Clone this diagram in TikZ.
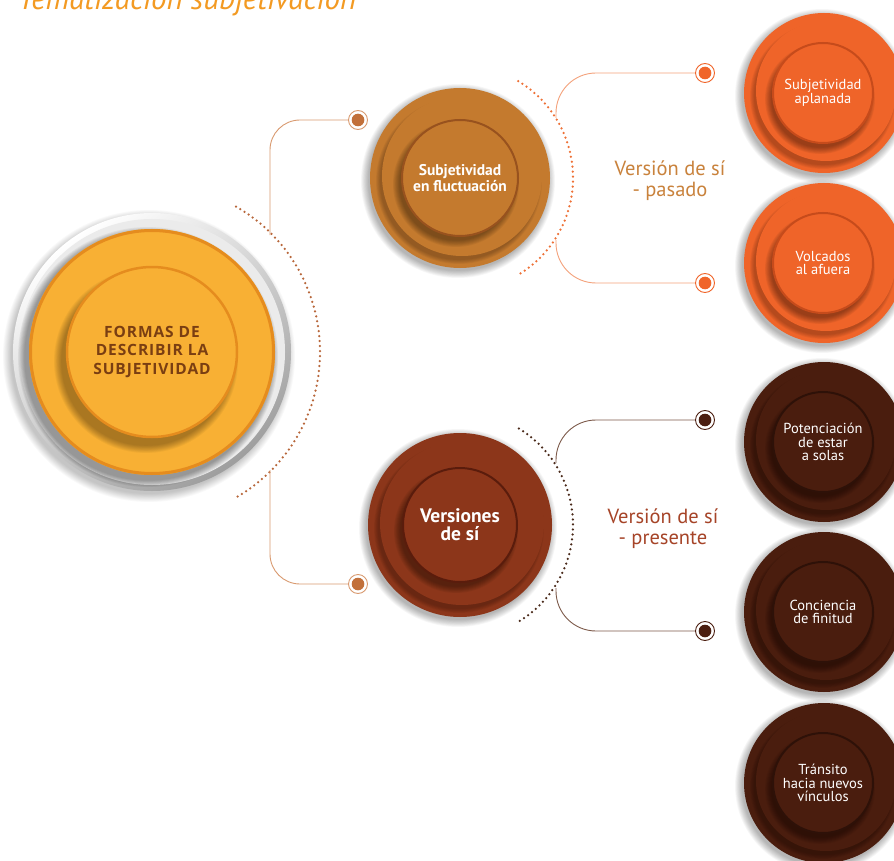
\documentclass[tikz,border=0pt]{standalone}
\usepackage{fontspec}
\setmainfont{PT Sans}
\newfontfamily\headfont{Open Sans}[LetterSpace=6]
\usetikzlibrary{calc}
\definecolor{mainfill}{HTML}{F8B034}
\definecolor{mainborder}{HTML}{E58C1E}
\definecolor{maintext}{HTML}{7A3E12}
\definecolor{fluctfill}{HTML}{C47A2E}
\definecolor{fluctborder}{HTML}{98521E}
\definecolor{versfill}{HTML}{8C361A}
\definecolor{versborder}{HTML}{5A1C0C}
\definecolor{orfill}{HTML}{EF6429}
\definecolor{orborder}{HTML}{C64B1B}
\definecolor{dkfill}{HTML}{4A1D0E}
\definecolor{dkborder}{HTML}{2E1108}
\definecolor{arcmain}{HTML}{B8663A}
\definecolor{linemaincol}{HTML}{D99A70}
\definecolor{dotmaincol}{HTML}{C2703A}
\definecolor{lineorcol}{HTML}{F4A27C}
\definecolor{arcor}{HTML}{EE7035}
\definecolor{dotorcol}{HTML}{F0652A}
\definecolor{linedkcol}{HTML}{7D5A4A}
\definecolor{arcdk}{HTML}{4A2A1A}
\definecolor{dotdkcol}{HTML}{4B1E10}
\definecolor{pasadocol}{HTML}{C9823C}
\definecolor{presentecol}{HTML}{A64428}
\definecolor{titlecol}{HTML}{F39A22}
\newcommand\discstack[5]{%
  \foreach \k in {0,...,9}{\fill[black,opacity=0.03] (#1-2,#2-3) circle[radius={#3+7-0.8*\k}];}
  \fill[#4] (#1,#2) circle[radius=#3];
  \foreach \k in {0,...,5}{\fill[black,opacity=0.045] (#1-1,#2-3) circle[radius={#3-7-0.8*\k}];}
  \fill[#4] (#1+2,#2+2) circle[radius={#3-10}];
  \foreach \k in {0,...,7}{\fill[black,opacity=0.05] (#1-4,#2-6) circle[radius={#5+5-0.9*\k}];}
}
\begin{document}
\begin{tikzpicture}[x=1pt,y=1pt,
  dotarc/.style={line width=2.5pt, dash pattern=on 0pt off 5pt, line cap=round},
  dotbase/.style 2 args={circle, draw=#1, line width=0.9pt, fill=white, minimum size=19pt, inner sep=0pt,
     path picture={\fill[#2] (path picture bounding box.center) circle[radius=6.3pt];}},
  dotmain/.style={dotbase={linemaincol}{dotmaincol}},
  dotor/.style={dotbase={dotorcol}{dotorcol}},
  dotdk/.style={dotbase={dotdkcol}{dotdkcol}},
  conn/.style={line width=0.9pt},
  inner/.style 2 args={circle, fill=#1, draw=#2, line width=2pt, inner sep=0pt, align=center, text=white},
  rtext/.style={font=\fontsize{14.5}{13.5}\selectfont},
  grptext/.style={font=\fontsize{20.5}{21}\selectfont, align=center, inner sep=0pt}
]
\useasboundingbox (0,0) rectangle (894,-861);
\fill[white] (0,0) rectangle (894,-861);

% title (cut by the top edge, as in the reference)
\node[anchor=base west, inner sep=0pt, text=titlecol, font=\fontsize{31}{34}\selectfont\itshape] (title) at (18,-10) {Tematización subjetivación};

% ---------- main circle ----------
\foreach \k in {0,...,9}{\fill[black,opacity=0.025] (149,-356) circle[radius={146-0.9*\k}];}
\shade[top color=white, bottom color=black!38, shading angle=35] (152,-352) circle[radius=139];
\fill[black!8] (152,-352) circle[radius=133];
\foreach \k in {0,...,7}{\fill[black,opacity=0.05] (148,-357) circle[radius={130-0.9*\k}];}
\fill[mainfill] (152,-352) circle[radius=123];
\draw[mainborder, line width=3pt] (152,-352) circle[radius=121.5];
\foreach \k in {0,...,8}{\fill[black,opacity=0.04] (146,-361) circle[radius={92-0.9*\k}];}
\node[circle, fill=mainfill, draw=mainborder, line width=2.5pt, minimum size=170pt, inner sep=0pt,
  align=center, text=maintext, font=\headfont\bfseries\fontsize{15.5}{18.5}\selectfont] (main) at (152,-352)
  {FORMAS DE\\DESCRIBIR LA\\SUBJETIVIDAD};
\draw[arcmain, dotarc] ([shift={(60:168pt)}]main.center) arc[start angle=60, end angle=-60, radius=168];

% ---------- second level ----------
\discstack{460}{-178}{90}{fluctfill}{58}
\node[inner={fluctfill}{fluctborder}, minimum size=116pt, font=\bfseries\fontsize{15.5}{16}\selectfont] (fluct) at (460,-178)
  {Subjetividad\\en fluctuación};
\discstack{460}{-525}{92}{versfill}{57}
\node[inner={versfill}{versborder}, minimum size=114pt, font=\bfseries\fontsize{19.5}{18}\selectfont] (vers) at (460,-525)
  {Versiones\\de sí};

% main connectors
\coordinate (ca) at (270,-235);
\coordinate (cb) at (270,-470);
\node[dotmain] (d1) at (358,-120) {};
\node[dotmain] (d2) at (358,-584) {};
\draw[conn, linemaincol, rounded corners=30pt] (d1.west) -| (ca);
\draw[conn, linemaincol, rounded corners=30pt] (d2.west) -| (cb);

% group 1
\draw[arcor, dotarc] ([shift={(59:113pt)}]fluct.center) arc[start angle=59, end angle=-59, radius=113];
\coordinate (c1a) at (556,-118);
\coordinate (c1b) at (556,-240);
\node[dotor] (g1a) at (705,-73) {};
\node[dotor] (g1b) at (705,-283) {};
\draw[conn, lineorcol, rounded corners=40pt] (g1a.west) -| (c1a);
\draw[conn, lineorcol, rounded corners=40pt] (g1b.west) -| (c1b);
\node[grptext, text=pasadocol] (pasado) at (670,-181) {Versión de sí\\- pasado};

% group 2
\draw[arcdk, dotarc] ([shift={(58.6:113pt)}]vers.center) arc[start angle=58.6, end angle=-58.6, radius=113];
\coordinate (c2a) at (556,-463);
\coordinate (c2b) at (556,-588);
\node[dotdk] (g2a) at (705,-420) {};
\node[dotdk] (g2b) at (705,-631) {};
\draw[conn, linedkcol, rounded corners=40pt] (g2a.west) -| (c2a);
\draw[conn, linedkcol, rounded corners=40pt] (g2b.west) -| (c2b);
\node[grptext, text=presentecol] (presente) at (663,-529) {Versión de sí\\- presente};

% ---------- right circles ----------
\discstack{824}{-93}{80}{orfill}{50}
\node[inner={orfill}{orborder}, minimum size=100pt, rtext] (apl) at (823,-93) {Subjetividad\\aplanada};
\discstack{824}{-263}{80}{orfill}{50}
\node[inner={orfill}{orborder}, minimum size=100pt, rtext] (volc) at (823,-263) {Volcados\\al afuera};
\discstack{824}{-442}{80}{dkfill}{50}
\node[inner={dkfill}{dkborder}, minimum size=100pt, rtext] (pot) at (823,-442) {Potenciación\\de estar\\a solas};
\discstack{824}{-612}{80}{dkfill}{50}
\node[inner={dkfill}{dkborder}, minimum size=100pt, rtext] (conc) at (823,-612) {Conciencia\\de finitud};
\discstack{824}{-783}{80}{dkfill}{50}
\node[inner={dkfill}{dkborder}, minimum size=100pt, rtext] (trans) at (823,-783) {Tránsito\\hacia nuevos\\vínculos};
\end{tikzpicture}
\end{document}
